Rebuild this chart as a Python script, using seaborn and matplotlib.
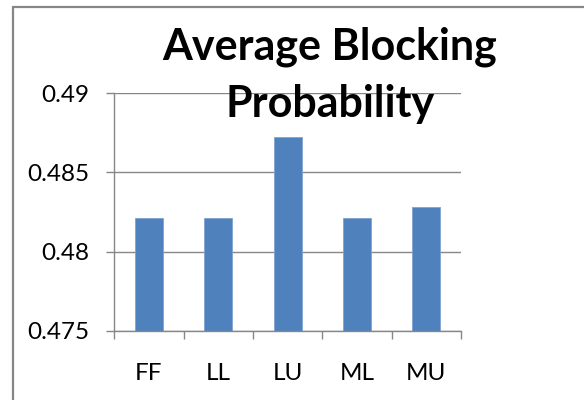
import matplotlib
matplotlib.use("Agg")
import matplotlib.pyplot as plt
from matplotlib.lines import Line2D
import seaborn as sns
import pandas as pd
import numpy as np

categories = ["FF", "LL", "LU", "ML", "MU"]
values = [0.48212, 0.48212, 0.48724, 0.48212, 0.48282]
yticks = [0.475, 0.48, 0.485, 0.49]
ytick_labels = ["0.475", "0.48", "0.485", "0.49"]
title_lines = ["Average Blocking", "Probability"]

sns.set_theme(style="white")
plt.rcParams["font.family"] = ["Lato", "DejaVu Sans"]

df = pd.DataFrame({"cat": categories, "val": values})

fig = plt.figure(figsize=(5.84, 4.0), dpi=100)
ax = fig.add_axes([114.3 / 584, 1 - 330.7 / 400, (461 - 114.3) / 584, (330.7 - 93.3) / 400])

grid_c = "#878787"
sns.barplot(data=df, x="cat", y="val", ax=ax, color="#4F81BD", saturation=1,
            width=0.4, edgecolor="#7FA3D0", linewidth=0.6, zorder=3)

ax.set_ylim(0.475, 0.49)
ax.set_xlim(-0.5, 4.5)
ax.set_yticks(yticks)
ax.set_yticklabels(ytick_labels)
ax.set_xlabel("")
ax.set_ylabel("")

for y in yticks:
    ax.axhline(y, color=grid_c, lw=1.0, zorder=1)

for s in ["top", "right"]:
    ax.spines[s].set_visible(False)
for s in ["left", "bottom"]:
    ax.spines[s].set_color(grid_c)
    ax.spines[s].set_linewidth(1.0)
    ax.spines[s].set_zorder(4)

ax.tick_params(axis="y", which="major", direction="out", length=5.5, width=1.0,
               color=grid_c, labelsize=17.5, pad=12.5, labelcolor="black", left=True)
ax.set_xticks(np.arange(-0.5, 5.0, 1.0), minor=True)
ax.tick_params(axis="x", which="minor", direction="out", length=5.5, width=1.0,
               color=grid_c, bottom=True)
ax.tick_params(axis="x", which="major", length=0, labelsize=17.5, pad=23,
               labelcolor="black")

# Chart title
fig.text(330 / 584, 1 - 59.3 / 400, title_lines[0], ha="center", va="baseline",
         fontsize=31, fontweight="bold", color="black", zorder=10)
fig.text(330 / 584, 1 - 116.7 / 400, title_lines[1], ha="center", va="baseline",
         fontsize=31, fontweight="bold", color="black", zorder=10)

# Chart frame (partly cropped)
fig.add_artist(Line2D([13 / 584, 13 / 584], [0, 1 - 6.7 / 400], transform=fig.transFigure,
                      color="#868686", lw=1.6))
fig.add_artist(Line2D([13 / 584, 1], [1 - 6.7 / 400, 1 - 6.7 / 400], transform=fig.transFigure,
                      color="#868686", lw=1.6))

fig.savefig("out.png", dpi=100)
